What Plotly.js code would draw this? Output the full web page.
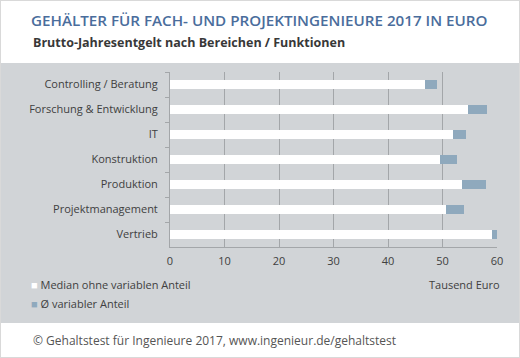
<!DOCTYPE html>
<html><head><meta charset="utf-8">
<script src="https://cdn.plot.ly/plotly-3.0.1.min.js"></script>
<style>
html,body{margin:0;padding:0;background:#fff;}
#wrap{position:relative;width:520px;height:358px;overflow:hidden;}
#panel{position:absolute;left:0;top:63px;width:520px;height:260px;background:#d1d4d7;}
#frame{position:absolute;left:0;top:0;width:518px;height:356px;border:1px solid #d9d9d9;pointer-events:none;z-index:5;}
#chart{position:absolute;left:0;top:0;width:520px;height:358px;}
</style></head>
<body><div id="wrap"><div id="panel"></div><div id="chart"></div><div id="frame"></div></div>
<script>
const categories = ["Controlling / Beratung","Forschung & Entwicklung","IT","Konstruktion","Produktion","Projektmanagement","Vertrieb"];
const median = [46.8, 54.6, 52.0, 49.6, 53.5, 50.7, 59.0];
const variabel = [2.1, 3.5, 2.4, 3.1, 4.4, 3.3, 1.3];
const seriesNames = ["Median ohne variablen Anteil","Ø variabler Anteil"];
const xTicks = [0,10,20,30,40,50,60];

const font = "Open Sans, Noto Sans, sans-serif";
const traces = [
  {type:'bar', orientation:'h', y:categories, x:median, name:seriesNames[0],
   marker:{color:'#ffffff', line:{width:0}}, width:0.39, showlegend:false, hoverinfo:'x'},
  {type:'bar', orientation:'h', y:categories, x:variabel, name:seriesNames[1],
   marker:{color:'#8fa9bd', line:{width:0}}, width:0.39, showlegend:false, hoverinfo:'x'}
];
const layout = {
  width:520, height:358,
  margin:{l:170, r:23.3, t:71.7, b:111.3},
  paper_bgcolor:'rgba(0,0,0,0)', plot_bgcolor:'rgba(0,0,0,0)',
  barmode:'stack',
  font:{family:font, color:'#404040', size:11},
  title:{text:'GEHÄLTER FÜR FACH- UND PROJEKTINGENIEURE 2017 IN EURO',
    font:{family:font, size:15.2, color:'#4a6d9c', weight:600},
    xref:'container', yref:'container', x:31/520, xanchor:'left', y:1-21/358, yanchor:'middle'},
  xaxis:{range:[0,60], tickvals:xTicks, ticktext:xTicks.map(String), showgrid:true, gridcolor:'#a3a6a9', gridwidth:1,
    zeroline:false, showline:true, linecolor:'#a3a6a9', linewidth:1, ticks:'', fixedrange:true,
    tickfont:{size:11, color:'#404040'}, ticklabelstandoff:4},
  yaxis:{autorange:'reversed', type:'category', tickson:'boundaries', ticks:'outside', ticklen:4, tickcolor:'#a3a6a9',
    showline:true, linecolor:'#a3a6a9', showgrid:false, zeroline:false, fixedrange:true,
    tickfont:{size:11, color:'#404040'}, ticklabelstandoff:9},
  annotations:[
    {text:'Brutto-Jahresentgelt nach Bereichen / Funktionen', xref:'paper', yref:'paper',
     x:(31-170)/326.7, xanchor:'left', y:(246.7-42)/175, yanchor:'middle', showarrow:false,
     font:{family:font, size:12.5, color:'#383838', weight:700}},
    {text:'<span style="color:#ffffff">■</span> '+seriesNames[0], xref:'paper', yref:'paper',
     x:(29-170)/326.7, xanchor:'left', y:(246.7-284)/175, yanchor:'middle', showarrow:false,
     font:{family:font, size:11, color:'#404040'}},
    {text:'<span style="color:#8fa9bd">■</span> '+seriesNames[1], xref:'paper', yref:'paper',
     x:(29-170)/326.7, xanchor:'left', y:(246.7-303)/175, yanchor:'middle', showarrow:false,
     font:{family:font, size:11, color:'#404040'}},
    {text:'Tausend Euro', xref:'paper', yref:'paper',
     x:(502-170)/326.7, xanchor:'right', y:(246.7-284)/175, yanchor:'middle', showarrow:false,
     font:{family:font, size:11, color:'#404040'}},
    {text:'© Gehaltstest für Ingenieure 2017, www.ingenieur.de/gehaltstest', xref:'paper', yref:'paper',
     x:(31-170)/326.7, xanchor:'left', y:(246.7-340)/175, yanchor:'middle', showarrow:false,
     font:{family:font, size:12, color:'#555555'}}
  ]
};
Plotly.newPlot('chart', traces, layout, {displayModeBar:false, staticPlot:true});
</script></body></html>
